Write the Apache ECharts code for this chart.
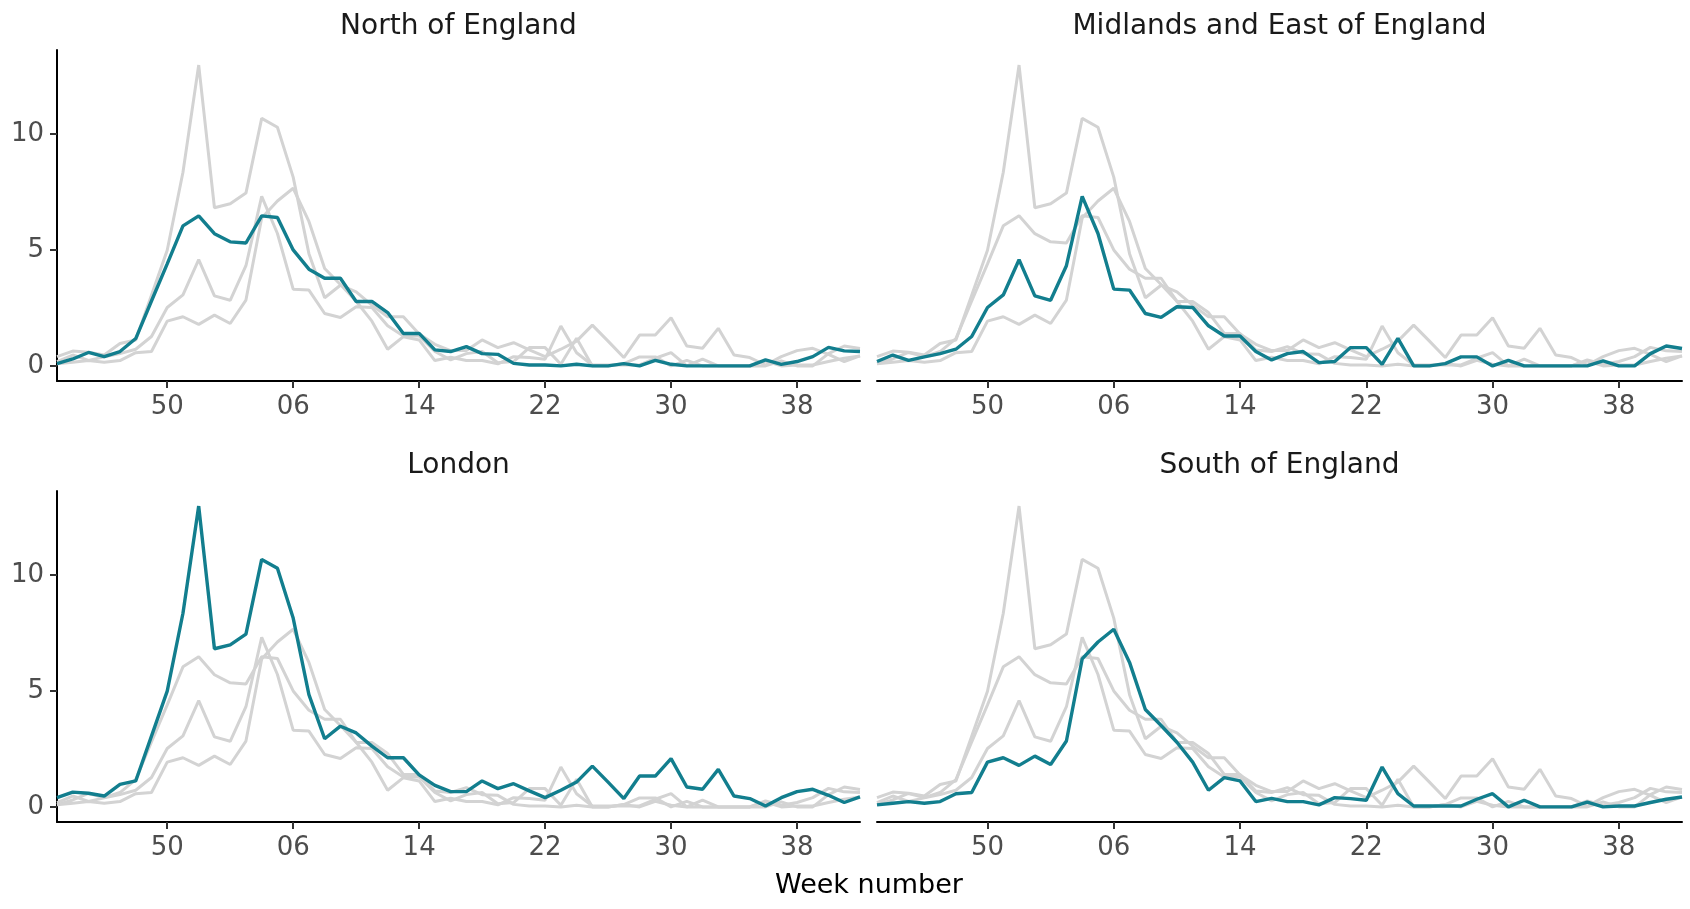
<!DOCTYPE html>
<html>
<head>
<meta charset="utf-8">
<title>Week number by region</title>
<script src="https://cdn.jsdelivr.net/npm/echarts@6.0.0/dist/echarts.min.js"></script>
<style>
html, body { margin: 0; padding: 0; background: #fff; }
#chart { width: 1690px; height: 909px; }
</style>
</head>
<body>
<div id="chart"></div>
<script>
// weeks 43..52 of the first year, then 01..42
var weeks = ['43','44','45','46','47','48','49','50','51','52',
    '01','02','03','04','05','06','07','08','09','10','11','12','13','14',
    '15','16','17','18','19','20','21','22','23','24','25','26','27','28',
    '29','30','31','32','33','34','35','36','37','38','39','40','41','42'];
var tickWeeks = ['50','06','14','22','30','38'];
var yTicks = [0, 5, 10];

var regions = ['North of England', 'Midlands and East of England', 'London', 'South of England'];

var north = [0.1, 0.3, 0.58, 0.4, 0.62, 1.18, 2.8, 4.4, 6.04, 6.47,
    5.7, 5.35, 5.3, 6.47, 6.4, 5.0, 4.17, 3.78, 3.78, 2.78, 2.78, 2.3, 1.4, 1.4,
    0.69, 0.62, 0.83, 0.53, 0.5, 0.11, 0.04, 0.04, 0, 0.07, 0, 0, 0.1, 0,
    0.24, 0.07, 0, 0, 0, 0, 0, 0.26, 0.07, 0.19, 0.4, 0.8, 0.65, 0.62];
var midlands = [0.19, 0.47, 0.24, 0.39, 0.53, 0.72, 1.27, 2.52, 3.06, 4.58,
    3.02, 2.83, 4.32, 7.31, 5.71, 3.31, 3.27, 2.26, 2.09, 2.55, 2.52, 1.73, 1.29, 1.29,
    0.62, 0.26, 0.53, 0.62, 0.14, 0.19, 0.79, 0.79, 0.07, 1.19, 0, 0, 0.1, 0.39,
    0.39, 0, 0.24, 0, 0, 0, 0, 0, 0.22, 0, 0, 0.53, 0.86, 0.75];
var london = [0.4, 0.64, 0.59, 0.47, 0.97, 1.12, 3.05, 4.99, 8.35, 12.97,
    6.82, 6.99, 7.45, 10.67, 10.29, 8.14, 4.84, 2.94, 3.48, 3.19, 2.62, 2.12, 2.12, 1.38,
    0.93, 0.66, 0.66, 1.12, 0.79, 1.0, 0.69, 0.4, 0.72, 1.07, 1.76, 1.07, 0.36, 1.33,
    1.33, 2.08, 0.86, 0.76, 1.62, 0.47, 0.36, 0.04, 0.4, 0.66, 0.76, 0.5, 0.19, 0.43];
var south = [0.09, 0.16, 0.23, 0.16, 0.23, 0.57, 0.62, 1.93, 2.12, 1.79,
    2.19, 1.83, 2.84, 6.38, 7.11, 7.66, 6.23, 4.2, 3.51, 2.79, 1.93, 0.72, 1.26, 1.12,
    0.23, 0.37, 0.23, 0.23, 0.09, 0.4, 0.36, 0.29, 1.72, 0.57, 0.04, 0.04, 0.04, 0.04,
    0.33, 0.57, 0, 0.29, 0, 0, 0, 0.21, 0, 0.04, 0.04, 0.19, 0.33, 0.43];

var regionData = [north, midlands, london, south];

window.onload = function () {
    var chart = echarts.init(document.getElementById('chart'), null, { renderer: 'canvas' });
    var font = 'DejaVu Sans';
    var teal = '#127e8e', grey = '#d3d3d3';

    // panel boxes: [left, top, width, height]
    var boxes = [[57, 50, 803, 331], [877, 50, 805, 331], [57, 491, 803, 331], [877, 491, 805, 331]];
    var grids = [], xAxes = [], yAxes = [], series = [], texts = [];

    var showTick = function (index, value) { return tickWeeks.indexOf(value) >= 0; };

    for (var p = 0; p < 4; p++) {
        var b = boxes[p];
        var leftCol = p % 2 === 0;   // only the left column carries a y axis
        grids.push({ left: b[0], top: b[1], width: b[2], height: b[3], containLabel: false });
        xAxes.push({
            type: 'category', gridIndex: p, data: weeks, boundaryGap: false,
            axisLine: { onZero: false, lineStyle: { color: '#000', width: 2 } },
            axisTick: { interval: showTick, length: 7, lineStyle: { color: '#333', width: 2 } },
            axisLabel: { interval: showTick, margin: 13, color: '#4d4d4d', fontSize: 26, fontFamily: font },
            splitLine: { show: false }
        });
        yAxes.push({
            type: 'value', gridIndex: p, min: -0.65, max: 13.62,
            axisLine: { show: leftCol, lineStyle: { color: '#000', width: 2 } },
            axisTick: { show: leftCol, customValues: yTicks, length: 7, lineStyle: { color: '#333', width: 2 } },
            axisLabel: { show: leftCol, customValues: yTicks, margin: 13, color: '#4d4d4d', fontSize: 26, fontFamily: font },
            splitLine: { show: false }
        });
        for (var r = 0; r < 4; r++) {
            var on = r === p;
            series.push({
                name: regions[r], type: 'line', xAxisIndex: p, yAxisIndex: p,
                data: regionData[r], symbol: 'none', silent: true, z: on ? 4 : 2,
                lineStyle: { color: on ? teal : grey, width: on ? 3.4 : 3 }
            });
        }
        texts.push({
            type: 'text', x: b[0] + b[2] / 2, y: p < 2 ? 27 : 466,
            style: { text: regions[p], fill: '#1a1a1a', font: '28px "' + font + '"',
                align: 'center', verticalAlign: 'middle', textAlign: 'center', textVerticalAlign: 'middle' }
        });
    }
    texts.push({
        type: 'text', x: 869, y: 886,
        style: { text: 'Week number', fill: '#000', font: '27px "' + font + '"',
            align: 'center', verticalAlign: 'middle', textAlign: 'center', textVerticalAlign: 'middle' }
    });

    chart.setOption({
        animation: false,
        backgroundColor: '#fff',
        grid: grids,
        xAxis: xAxes,
        yAxis: yAxes,
        series: series,
        graphic: texts
    });
};
</script>
</body>
</html>
